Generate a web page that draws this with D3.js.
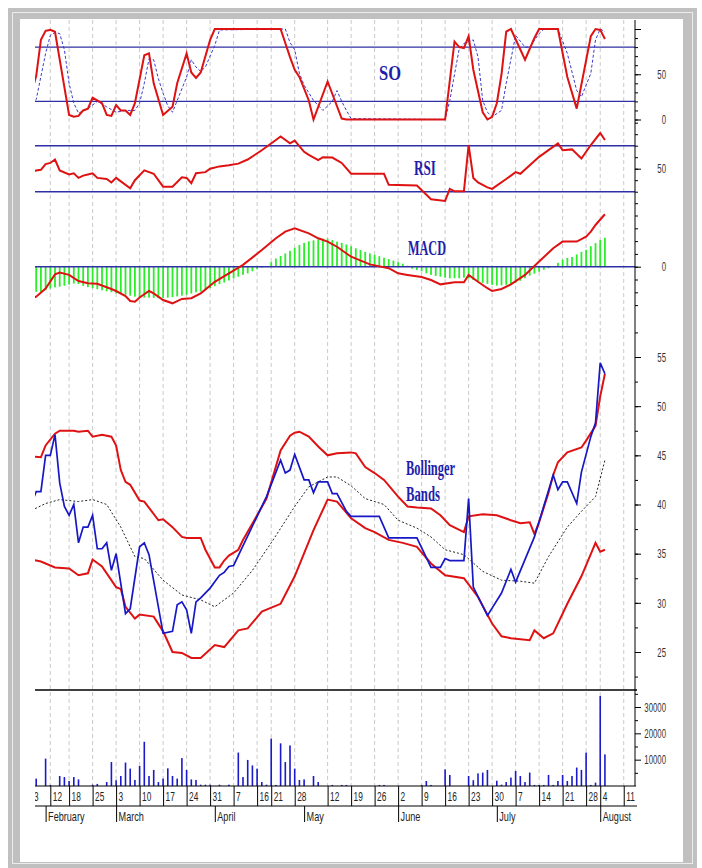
<!DOCTYPE html>
<html>
<head>
<meta charset="utf-8">
<script src="https://cdn.jsdelivr.net/npm/d3@7"></script>
<style>
  body { margin: 0; background: #fff; }
  svg { display: block; }
</style>
</head>
<body>
<svg id="chart" width="702" height="868"></svg>
<script>
// ---- datos: eje x por dia bursatil (indice) ----
var weekTickDay   = [0, 4, 8, 13, 18, 23, 28, 33, 38, 43, 48, 51, 56, 63, 68, 73, 78, 83, 88, 93, 98, 103, 108, 113, 118, 121, 126];
var weekTickLabel = ["3","12","18","25","3","10","17","24","31","7","16","21","28","12","19","26","2","9","16","23","30","7","14","21","28","4","11"];
var monthTickDay  = [3, 18, 39, 58, 78, 99, 121];
var monthLabel    = ["February","March","April","May","June","July","August"];

// Estocastico: %K (rojo) y %D (azul discontinuo)  [dia, valor]
var soK = [[0,30],[1,48],[2,88],[3,98],[4,99],[5,97],[8,5],[9,3],[10,4],[11,10],[12,12],[13,24],[15,18],[16,5],[17,4],[18,16],[19,10],[20,10],[21,5],[22,18],[24,71],[25,73],[26,40],[28,5],[30,14],[31,40],[33,73],[34,52],[35,46],[36,52],[38,88],[39,100],[53,100],[55,69],[56,55],[57,47],[59,21],[60,0],[63,42],[66,1],[67,0],[88,0],[90,86],[91,80],[92,79],[93,92],[94,55],[96,8],[97,0],[98,3],[99,18],[100,50],[101,97],[102,100],[105,66],[107,90],[108,100],[112,100],[114,47],[116,12],[119,92],[120,100],[121,99],[122,89]];
var soD = [[0,18],[1,22],[3,73],[4,93],[5,96],[6,95],[7,77],[8,40],[9,18],[10,7],[12,12],[14,20],[16,14],[18,8],[20,10],[22,10],[23,18],[24,40],[25,67],[26,66],[27,45],[28,29],[29,15],[30,8],[31,21],[33,47],[34,66],[35,58],[36,53],[37,58],[39,82],[40,99],[54,100],[55,85],[56,77],[57,51],[58,38],[60,21],[62,10],[64,20],[65,32],[66,20],[67,10],[68,1],[88,0],[89,21],[90,50],[91,78],[92,84],[94,88],[95,69],[96,21],[97,8],[98,3],[100,10],[101,40],[103,93],[105,80],[106,80],[108,95],[109,100],[112,100],[114,73],[116,32],[117,25],[119,51],[120,88],[121,100],[122,97]];
var soLevels = [80, 20];

// RSI
var rsi = [[0,47],[1,48.5],[2,49],[3,54],[4,55],[5,58],[6,48.5],[8,45],[9,46],[10,42],[11,44],[12,45],[13,46],[14,42],[16,41],[17,38],[18,42],[21,33],[22,40],[24,48.5],[26,45.6],[28,34.4],[30,34.4],[32,42.6],[33,42],[34,37.4],[35,46],[37,47],[38,50],[40,52],[42,53],[44,54.4],[46,58],[49,66],[52,75],[53,78],[55,72],[56,74.4],[58,64.7],[59,62],[61,57.4],[62,60],[64,59.7],[66,55],[68,45.6],[75,45.6],[76,36],[82,35.3],[85,23.5],[88,22],[89,32.4],[90,30.3],[92,30.3],[93,70.6],[94,42],[95,38],[97,33.8],[98,32.4],[101,41],[103,47],[104,45.6],[108,60.3],[112,72],[113,66],[115,66.8],[117,58.8],[118,64.7],[119,70.6],[121,81],[122,75]];
var rsiLevels = [70, 30];

// MACD: linea e histograma (un valor por dia, 0..122)
var macdLine = [[0,-1.25],[1,-1.17],[3,-0.85],[5,-0.3],[6,-0.23],[8,-0.32],[10,-0.56],[12,-0.65],[14,-0.67],[17,-0.87],[18,-0.95],[20,-1.15],[21,-1.34],[22,-1.37],[23,-1.2],[25,-0.95],[26,-1.04],[28,-1.3],[30,-1.43],[32,-1.26],[34,-1.23],[36,-1.04],[39,-0.59],[42,-0.26],[45,0.07],[49,0.65],[52,1.11],[54,1.37],[56,1.5],[59,1.3],[61,1.11],[63,0.98],[65,0.78],[68,0.39],[72,0.09],[76,-0.06],[78,-0.26],[80,-0.32],[83,-0.4],[85,-0.52],[87,-0.69],[90,-0.61],[92,-0.61],[93,-0.32],[95,-0.59],[97,-0.84],[98,-0.95],[100,-0.87],[102,-0.69],[105,-0.32],[108,0.2],[111,0.72],[113,0.98],[116,0.98],[118,1.17],[119,1.37],[120,1.63],[122,2.05]];
var macdHist = [-0.98,-0.98,-0.98,-0.92,-0.86,-0.81,-0.78,-0.74,-0.70,-0.66,
  -0.68,-0.75,-0.80,-0.84,-0.88,-0.92,-0.96,-1.00,-1.04,-1.07,
  -1.10,-1.13,-1.17,-1.19,-1.21,-1.21,-1.22,-1.23,-1.22,-1.21,
  -1.19,-1.16,-1.13,-1.10,-1.05,-1.00,-0.97,-0.90,-0.84,-0.76,
  -0.68,-0.62,-0.54,-0.46,-0.39,-0.32,-0.26,-0.18,-0.10,-0.04,
  0.02,0.18,0.32,0.42,0.52,0.62,0.74,0.85,0.93,0.99,
  1.03,1.07,1.10,1.10,1.04,0.98,0.93,0.87,0.80,0.72,
  0.65,0.58,0.52,0.46,0.41,0.35,0.30,0.24,0.18,0.12,
  0.04,-0.08,-0.13,-0.18,-0.26,-0.32,-0.36,-0.39,-0.43,-0.45,
  -0.45,-0.45,-0.43,-0.46,-0.52,-0.58,-0.63,-0.67,-0.71,-0.74,
  -0.73,-0.71,-0.68,-0.63,-0.55,-0.45,-0.35,-0.27,-0.20,-0.12,
  -0.06,0.02,0.15,0.28,0.34,0.38,0.48,0.58,0.66,0.80,
  0.92,1.04,1.13];

// Bandas de Bollinger y precio
var bbUpper = [[0,44.9],[2,44.8],[3,46.0],[5,47.2],[6,47.5],[9,47.5],[10,47.4],[12,47.5],[13,46.9],[15,47.1],[17,46.9],[18,46.0],[19,43.5],[20,42.3],[21,42.0],[23,40.4],[24,40.3],[27,38.4],[28,38.5],[30,37.7],[32,36.7],[33,36.6],[36,36.6],[37,35.4],[39,33.6],[40,33.6],[41,34.3],[42,34.8],[44,35.4],[45,36.4],[48,38.9],[50,40.6],[53,45.5],[55,47.0],[56,47.3],[57,47.4],[59,46.9],[61,45.9],[63,45.0],[65,45.2],[68,45.3],[69,45.2],[71,43.8],[73,43.2],[75,42.5],[78,40.8],[80,39.8],[82,39.7],[85,39.6],[87,38.9],[89,37.9],[92,37.2],[93,38.8],[96,39.0],[99,38.9],[102,38.4],[104,38.1],[106,38.2],[107,37.0],[108,38.2],[110,41.2],[111,43.0],[112,44.3],[114,45.3],[117,45.8],[118,46.5],[120,48.0],[121,51.0],[122,53.3]];
var bbLower = [[0,34.4],[2,34.2],[5,33.6],[8,33.5],[10,32.8],[12,33.0],[13,34.4],[15,33.7],[18,31.6],[19,31.4],[20,29.6],[22,28.4],[23,28.8],[26,28.6],[28,27.1],[30,25.0],[32,24.9],[34,24.4],[36,24.4],[39,25.7],[41,25.5],[44,27.2],[46,27.4],[49,29.1],[53,29.9],[56,32.7],[60,37.4],[63,40.5],[65,40.3],[68,38.6],[71,37.6],[73,37.2],[76,36.4],[79,36.1],[82,35.7],[85,34.0],[88,32.8],[92,32.5],[95,30.6],[98,27.9],[100,26.6],[102,26.4],[106,26.2],[107,27.2],[109,26.4],[111,26.9],[114,29.9],[117,32.7],[120,36.1],[121,35.2],[122,35.4]];
var bbMiddle = [[0,39.4],[3,40.1],[6,40.5],[10,40.3],[13,40.5],[16,40.0],[19,37.7],[22,34.7],[24,34.5],[28,32.3],[32,30.8],[36,30.3],[39,29.6],[43,31.0],[47,33.3],[51,36.1],[56,39.8],[59,41.8],[63,42.8],[65,42.8],[68,41.9],[71,40.6],[75,40.0],[78,38.4],[82,37.6],[85,36.7],[88,35.4],[92,34.9],[96,33.2],[100,32.3],[104,32.2],[107,32.0],[110,34.7],[114,37.7],[117,39.3],[120,40.8],[122,44.5]];
var price = [[0,40.1],[1,41.3],[2,41.3],[3,45.0],[4,45.0],[5,47.1],[6,42.2],[7,39.8],[8,38.9],[9,40.0],[10,36.1],[11,37.7],[12,37.7],[13,38.9],[14,35.5],[15,35.5],[16,36.1],[17,33.3],[18,35.0],[20,28.9],[21,29.4],[23,35.7],[24,36.1],[25,34.9],[28,26.9],[30,27.1],[31,29.8],[32,30.1],[33,29.3],[34,26.9],[35,30.1],[36,30.5],[38,31.5],[40,32.8],[41,33.1],[42,33.7],[43,33.8],[48,38.8],[50,40.8],[53,44.5],[54,43.2],[55,43.5],[56,45.1],[58,42.5],[59,42.5],[60,41.2],[61,42.3],[63,42.3],[64,41.1],[65,41.1],[67,39.3],[68,38.8],[74,38.8],[76,36.6],[82,36.6],[85,33.6],[87,33.6],[88,34.5],[89,34.3],[92,34.3],[93,40.6],[94,31.6],[97,28.7],[100,31.0],[102,33.4],[103,32.1],[107,36.7],[111,43.0],[112,41.5],[113,42.3],[114,42.3],[116,40.1],[117,43.3],[119,46.9],[120,48.3],[121,54.4],[122,53.3]];

// Volumen diario (0..122)
var volume = [0,2800,0,10400,400,0,3800,3400,1900,3400,
  2500,0,0,500,800,0,1500,9100,2200,3800,
  8900,6600,2300,7600,16800,3800,6100,1500,2800,6700,
  3800,2800,10600,6100,2500,2300,500,500,500,0,
  500,0,500,0,12700,3400,9900,7800,6600,1500,
  500,18000,400,16200,9100,15400,6600,2300,2500,0,
  3800,1500,0,0,400,0,400,400,0,0,
  0,0,0,0,400,400,0,0,0,0,
  0,0,0,400,1900,400,0,0,6300,4200,
  0,0,0,3800,2200,4800,5100,6100,0,2000,
  500,1500,3200,5700,3800,1500,5100,400,400,400,
  4200,400,1900,4200,1900,3800,7000,6100,12700,400,
  1300,34200,12000];

// ---- dimensiones ----
var svg = d3.select("#chart"),
    left = 35, right = 635, plotTop = 20, base = 786;

var red = "#de1212", navy = "#2f2fa6", priceBlue = "#1717c6", titleBlue = "#1e1eaa";

// marco gris
svg.append("rect").attr("x", 8).attr("y", 8).attr("width", 689).attr("height", 860).attr("fill", "#c0c0c0");
svg.append("rect").attr("x", 12.5).attr("y", 12.5).attr("width", 680).attr("height", 851).attr("fill", "none").attr("stroke", "#ececec");
svg.append("rect").attr("x", 20).attr("y", 19).attr("width", 663).attr("height", 843).attr("fill", "#fff");

var defs = svg.append("defs");
defs.append("clipPath").attr("id", "clipPlot").append("rect")
    .attr("x", left).attr("y", 18).attr("width", right - left).attr("height", base - 18);
defs.append("clipPath").attr("id", "clipAxis").append("rect")
    .attr("x", left).attr("y", -2).attr("width", 620).attr("height", 60);

// escalas
var x = d3.scaleLinear().domain([0.745, 128.4]).range([left, right]);
var ySO   = d3.scaleLinear().domain([0, 100]).range([119.5, 29]);
var yRSI  = d3.scaleLinear().domain([30, 70]).range([191.7, 145.7]);
var yMACD = d3.scaleLinear().domain([0, 1]).range([266.7, 241.1]);
var yBB   = d3.scaleLinear().domain([25, 55]).range([652, 357]);
var yVol  = d3.scaleLinear().domain([0, 30000]).range([base, 707]);

function squeeze(sel, r) {
  sel.each(function() {
    var w = this.getComputedTextLength();
    d3.select(this).attr("textLength", w * r).attr("lengthAdjust", "spacingAndGlyphs");
  });
}

var plot = svg.append("g").attr("clip-path", "url(#clipPlot)");

// lineas verticales discontinuas (semanas)
plot.selectAll(".grid").data(weekTickDay).enter().append("line")
    .attr("x1", function(d) { return x(d); }).attr("x2", function(d) { return x(d); })
    .attr("y1", plotTop).attr("y2", base)
    .attr("stroke", "#c9c9c9").attr("stroke-dasharray", "4,3");

function lineFor(ys) {
  return d3.line().x(function(d) { return x(d[0]); }).y(function(d) { return ys(d[1]); });
}
function hLines(ys, levels) {
  plot.selectAll(null).data(levels).enter().append("line")
      .attr("x1", left).attr("x2", right)
      .attr("y1", function(d) { return ys(d); }).attr("y2", function(d) { return ys(d); })
      .attr("stroke", navy).attr("stroke-width", 1.4);
}

// SO
hLines(ySO, soLevels);
plot.append("path").datum(soD).attr("d", lineFor(ySO))
    .attr("fill", "none").attr("stroke", "#3a3ad2").attr("stroke-width", 1).attr("stroke-dasharray", "3,2");
plot.append("path").datum(soK).attr("d", lineFor(ySO))
    .attr("fill", "none").attr("stroke", red).attr("stroke-width", 2);

// RSI
hLines(yRSI, rsiLevels);
plot.append("path").datum(rsi).attr("d", lineFor(yRSI))
    .attr("fill", "none").attr("stroke", red).attr("stroke-width", 2);

// MACD
plot.selectAll(".hist").data(macdHist).enter().append("rect")
    .attr("x", function(d, i) { return x(i) - 0.9; })
    .attr("width", 1.8)
    .attr("y", function(d) { return Math.min(yMACD(d), yMACD(0)); })
    .attr("height", function(d) { return Math.abs(yMACD(d) - yMACD(0)); })
    .attr("fill", "#2bee2b");
hLines(yMACD, [0]);
plot.append("path").datum(macdLine).attr("d", lineFor(yMACD))
    .attr("fill", "none").attr("stroke", red).attr("stroke-width", 2);

// Bollinger
plot.append("path").datum(bbMiddle).attr("d", lineFor(yBB))
    .attr("fill", "none").attr("stroke", "#222").attr("stroke-width", 1).attr("stroke-dasharray", "2,2");
[bbUpper, bbLower].forEach(function(s) {
  plot.append("path").datum(s).attr("d", lineFor(yBB))
      .attr("fill", "none").attr("stroke", red).attr("stroke-width", 2);
});
plot.append("path").datum(price).attr("d", lineFor(yBB))
    .attr("fill", "none").attr("stroke", priceBlue).attr("stroke-width", 1.7);

// Volumen
plot.selectAll(".vol").data(volume).enter().append("rect")
    .attr("x", function(d, i) { return x(i) - 0.8; })
    .attr("width", 1.6)
    .attr("y", function(d) { return yVol(d); })
    .attr("height", function(d) { return base - yVol(d); })
    .attr("fill", "#1a1acc");

// separadores
svg.append("line").attr("x1", left).attr("x2", right + 2).attr("y1", 690).attr("y2", 690).attr("stroke", "#000").attr("stroke-width", 1.5);
svg.append("line").attr("x1", right).attr("x2", right).attr("y1", plotTop).attr("y2", base).attr("stroke", "#000");

// ejes derechos
function rightAxis(ys, minor, major, labels) {
  var gMin = svg.append("g").attr("transform", "translate(" + right + ",0)")
      .call(d3.axisRight(ys).tickValues(minor).tickSize(3).tickFormat(""));
  var gMaj = svg.append("g").attr("transform", "translate(" + right + ",0)")
      .call(d3.axisRight(ys).tickValues(major).tickSize(6)
        .tickFormat(function(d) { return labels.indexOf(d) >= 0 ? d : ""; }));
  gMin.select(".domain").remove();
  gMaj.select(".domain").remove();
  gMaj.selectAll("text").attr("x", 31).attr("text-anchor", "end")
      .attr("font-family", "Liberation Sans, Arial, sans-serif").attr("font-size", 13).attr("fill", "#333");
  squeeze(gMaj.selectAll("text"), 0.6);
}
rightAxis(ySO, d3.range(0, 101, 10), [0, 50, 100], [0, 50]);
rightAxis(yRSI, d3.range(20, 91, 10), [50], [50]);
rightAxis(yMACD, d3.range(-1.5, 2.01, 0.5), [0], [0]);
rightAxis(yBB, d3.range(22.5, 57.6, 2.5), [25, 30, 35, 40, 45, 50, 55], [25, 30, 35, 40, 45, 50, 55]);
rightAxis(yVol, [5000, 15000, 25000, 35000], [10000, 20000, 30000], [10000, 20000, 30000]);

// eje de fechas
svg.append("line").attr("x1", left).attr("x2", right + 1).attr("y1", base).attr("y2", base).attr("stroke", "#000");
svg.append("line").attr("x1", left).attr("x2", right + 2).attr("y1", 806).attr("y2", 806).attr("stroke", "#000");

var gDay = svg.append("g").attr("transform", "translate(0," + base + ")").attr("clip-path", "url(#clipAxis)")
    .call(d3.axisBottom(x).tickValues(weekTickDay).tickSize(20)
      .tickFormat(function(d, i) { return weekTickLabel[i]; }));
gDay.select(".domain").remove();
gDay.selectAll("text").attr("x", 2).attr("y", 15).attr("dy", 0).attr("text-anchor", "start")
    .attr("font-family", "Liberation Sans, Arial, sans-serif").attr("font-size", 13).attr("fill", "#222");
squeeze(gDay.selectAll("text"), 0.64);

var gMonth = svg.append("g").attr("transform", "translate(0,806)").attr("clip-path", "url(#clipAxis)")
    .call(d3.axisBottom(x).tickValues(monthTickDay).tickSize(16)
      .tickFormat(function(d, i) { return monthLabel[i]; }));
gMonth.select(".domain").remove();
gMonth.selectAll("text").attr("x", 2).attr("y", 15).attr("dy", 0).attr("text-anchor", "start")
    .attr("font-family", "Liberation Sans, Arial, sans-serif").attr("font-size", 13).attr("fill", "#222");
squeeze(gMonth.selectAll("text"), 0.7);

// titulos de los paneles
var titles = [
  {t: "SO", x: 379, y: 80, w: 22},
  {t: "RSI", x: 414, y: 175, w: 22},
  {t: "MACD", x: 408, y: 255, w: 38},
  {t: "Bollinger", x: 406, y: 475, w: 49},
  {t: "Bands", x: 406, y: 501, w: 34}
];
svg.selectAll(".title").data(titles).enter().append("text")
    .attr("x", function(d) { return d.x; }).attr("y", function(d) { return d.y; })
    .attr("font-family", "Liberation Serif, Times New Roman, serif").attr("font-weight", "bold")
    .attr("font-size", 20).attr("fill", titleBlue)
    .attr("textLength", function(d) { return d.w; }).attr("lengthAdjust", "spacingAndGlyphs")
    .text(function(d) { return d.t; });
</script>
</body>
</html>
